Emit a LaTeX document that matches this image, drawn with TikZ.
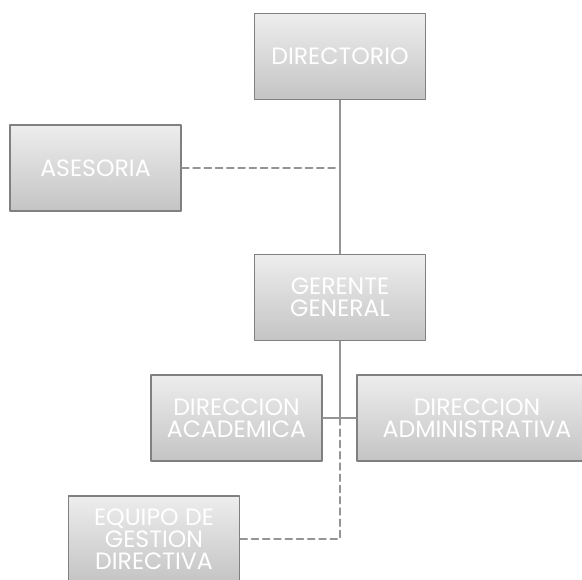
\documentclass[tikz,border=0pt]{standalone}
\usepackage{fontspec}
\setmainfont{Poppins}
\usepackage{tikz}
\usetikzlibrary{positioning}
\definecolor{boxgray}{rgb}{0.50,0.50,0.50}
\definecolor{linegray}{rgb}{0.58,0.58,0.58}

\begin{document}
\begin{tikzpicture}[line cap=round,line join=round, x=0.025cm,y=-0.025cm,
    cargo/.style={draw=boxgray, line width=1.1pt, top color=gray!14, bottom color=gray!46,
      text=white, align=center, inner sep=0pt, minimum width=4.275cm, minimum height=2.15cm,
      font=\fontsize{16.8}{15.6}\selectfont},
    enlace/.style={draw=linegray, line width=1pt},
    apoyo/.style={draw=linegray, line width=1pt, dash pattern=on 5pt off 3pt}]
						\useasboundingbox (0,0) rectangle (582,579);
						\clip (0,0) rectangle (582,579);
						\node[cargo] (dir) at (340,56.5) {DIRECTORIO};
						\node[cargo] (ase) at (95.5,168) {ASESORIA};
						\node[cargo] (ger) at (340,297.5) {GERENTE\\GENERAL};
						\node[cargo] (aca) at (236.5,418) {DIRECCION\\ACADEMICA};
						\node[cargo, minimum width=6cm] (adm) at (477,418) {DIRECCION\\ADMINISTRATIVA};
						\node[cargo] (equ) at (154,539) {EQUIPO DE\\GESTION\\DIRECTIVA};
						\coordinate (cruce) at (ger.south |- aca.east);
						\draw[enlace] (dir) -- (ger);
						\draw[enlace] (ger) -- (cruce);
						\draw[enlace] (aca) -- (adm);
						\draw[apoyo] (ase) -- (ase.east -| dir.south);
						\draw[apoyo] (cruce) -- (cruce |- equ.east) -- (equ);
					\end{tikzpicture}
\end{document}
